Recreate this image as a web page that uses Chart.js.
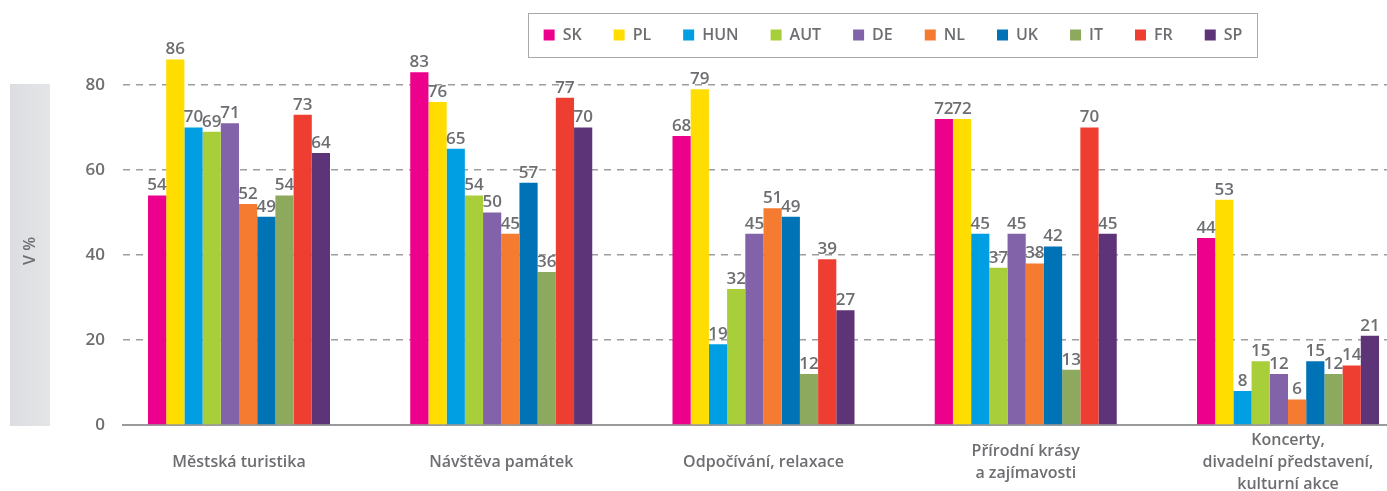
<!DOCTYPE html>
<html>
<head>
<meta charset="utf-8">
<script src="https://cdn.jsdelivr.net/npm/chart.js@4.4.1/dist/chart.umd.min.js"></script>
<style>
  html, body { margin: 0; padding: 0; background: #ffffff; overflow: hidden; }
  #wrap { position: relative; width: 1387px; height: 491px; }
</style>
</head>
<body>
<div id="wrap"><canvas id="c" width="1387" height="491"></canvas></div>
<script>
// ---- data ----
const categories = [
  "Městská turistika",
  "Návštěva památek",
  "Odpočívání, relaxace",
  ["Přírodní krásy", "a zajímavosti"],
  ["Koncerty,", "divadelní představení,", "kulturní akce"]
];
const seriesNames = ["SK", "PL", "HUN", "AUT", "DE", "NL", "UK", "IT", "FR", "SP"];
const SK  = [54, 83, 68, 72, 44];
const PL  = [86, 76, 79, 72, 53];
const HUN = [70, 65, 19, 45, 8];
const AUT = [69, 54, 32, 37, 15];
const DE  = [71, 50, 45, 45, 12];
const NL  = [52, 45, 51, 38, 6];
const UK  = [49, 57, 49, 42, 15];
const IT  = [54, 36, 12, 13, 12];
const FR  = [73, 77, 39, 70, 14];
const SP  = [64, 70, 27, 45, 21];
const seriesValues = [SK, PL, HUN, AUT, DE, NL, UK, IT, FR, SP];
const yTickValues = [0, 20, 40, 60, 80];
const yAxisTitle = "V %";

// ---- styles ----
const seriesColors = ["#EC008C", "#FFDD00", "#009FE3", "#A8CE3A", "#8263A9",
                      "#F47B30", "#0073B6", "#8DA95E", "#EE3E31", "#5D3478"];
const TEXT = "#6d6e71";
const FAMILY = "'Open Sans', sans-serif";

const datasets = seriesNames.map((name, i) => ({
  label: name,
  data: seriesValues[i],
  backgroundColor: seriesColors[i],
  borderWidth: 0,
  categoryPercentage: 0.694,
  barPercentage: 1.0,
  clip: false
}));

const LEGEND_CX = 893, FRAME_W = 730;

const decor = {
  id: "decor",
  afterLayout(chart) {
    const lg = chart.legend;
    if (!lg) return;
    const half = 520;
    lg.left = LEGEND_CX - half; lg.right = LEGEND_CX + half; lg.width = 2 * half;
    lg.top = -5; lg.bottom = lg.top + lg.height;
  },
  beforeDraw(chart) {
    const ctx = chart.ctx;
    const ys = chart.scales.y;
    const top = ys.getPixelForValue(80) - 1;
    const bottom = ys.getPixelForValue(0) + 1;
    ctx.save();
    const g = ctx.createLinearGradient(10, 0, 50, 0);
    g.addColorStop(0, "#dcdde0");
    g.addColorStop(1, "#e4e5e7");
    ctx.fillStyle = g;
    ctx.fillRect(10, top, 40, bottom - top);
    ctx.translate(30, (top + bottom) / 2 - 4);
    ctx.rotate(-Math.PI / 2);
    ctx.font = "600 16px " + FAMILY;
    ctx.fillStyle = TEXT;
    ctx.textAlign = "center";
    ctx.textBaseline = "middle";
    ctx.fillText(yAxisTitle, 0, 0);
    ctx.restore();

    const lg = chart.legend;
    if (lg) {
      const cx = (lg.left + lg.right) / 2;
      ctx.save();
      ctx.strokeStyle = "#a7a9ac";
      ctx.lineWidth = 1;
      ctx.strokeRect(Math.round(cx - FRAME_W / 2) + 0.5, 13.5, FRAME_W - 1, 44);
      ctx.restore();
    }
  },
  afterDatasetsDraw(chart) {
    const ctx = chart.ctx;
    ctx.save();
    ctx.font = "600 17px " + FAMILY;
    ctx.fillStyle = TEXT;
    ctx.textAlign = "center";
    ctx.textBaseline = "alphabetic";
    chart.data.datasets.forEach((ds, i) => {
      const meta = chart.getDatasetMeta(i);
      meta.data.forEach((bar, j) => {
        ctx.fillText(String(ds.data[j]), bar.x, bar.y - 5);
      });
    });
    ctx.restore();
  }
};

new Chart(document.getElementById("c"), {
  type: "bar",
  data: { labels: categories.map((_, i) => i), datasets },
  plugins: [decor],
  options: {
    responsive: false,
    animation: false,
    layout: { padding: 0 },
    plugins: {
      tooltip: { enabled: false },
      legend: {
        position: "top",
        align: "center",
        labels: {
          boxWidth: 11, boxHeight: 11, padding: 32, color: TEXT,
          font: { family: FAMILY, size: 16, weight: "600" }
        }
      }
    },
    scales: {
      x: {
        type: "linear",
        min: -0.4423,
        max: 4.3775,
        offset: false,
        grid: { display: false, drawTicks: false },
        border: { display: true, color: "#9a9a9a", width: 2 },
        ticks: {
          stepSize: 1, autoSkip: false, maxRotation: 0, minRotation: 0, includeBounds: false,
          padding: 15, crossAlign: "center", color: TEXT,
          font: { family: FAMILY, size: 16, weight: "600", lineHeight: 1.375 },
          callback: v => Number.isInteger(v) ? categories[v] : ""
        },
        afterBuildTicks: s => { s.ticks = s.ticks.filter(t => Number.isInteger(t.value)); },
        afterFit: s => { s.height = 66; s.paddingLeft = 0; s.paddingRight = 0; }
      },
      y: {
        min: 0,
        max: 86.35,
        grid: {
          drawTicks: false,
          lineWidth: 1.5,
          color: c => (c.tick && c.tick.value > 0 && yTickValues.includes(c.tick.value)) ? "#9d9d9d" : "rgba(0,0,0,0)"
        },
        border: { display: false, dash: [7, 6] },
        ticks: {
          stepSize: 20, padding: 18, color: TEXT, includeBounds: false,
          font: { family: FAMILY, size: 17, weight: "600" },
          callback: v => yTickValues.includes(v) ? String(v) : ""
        },
        afterFit: s => { s.width = 123; s.paddingTop = 0; s.paddingBottom = 0; }
      }
    }
  }
});
</script>
</body>
</html>
